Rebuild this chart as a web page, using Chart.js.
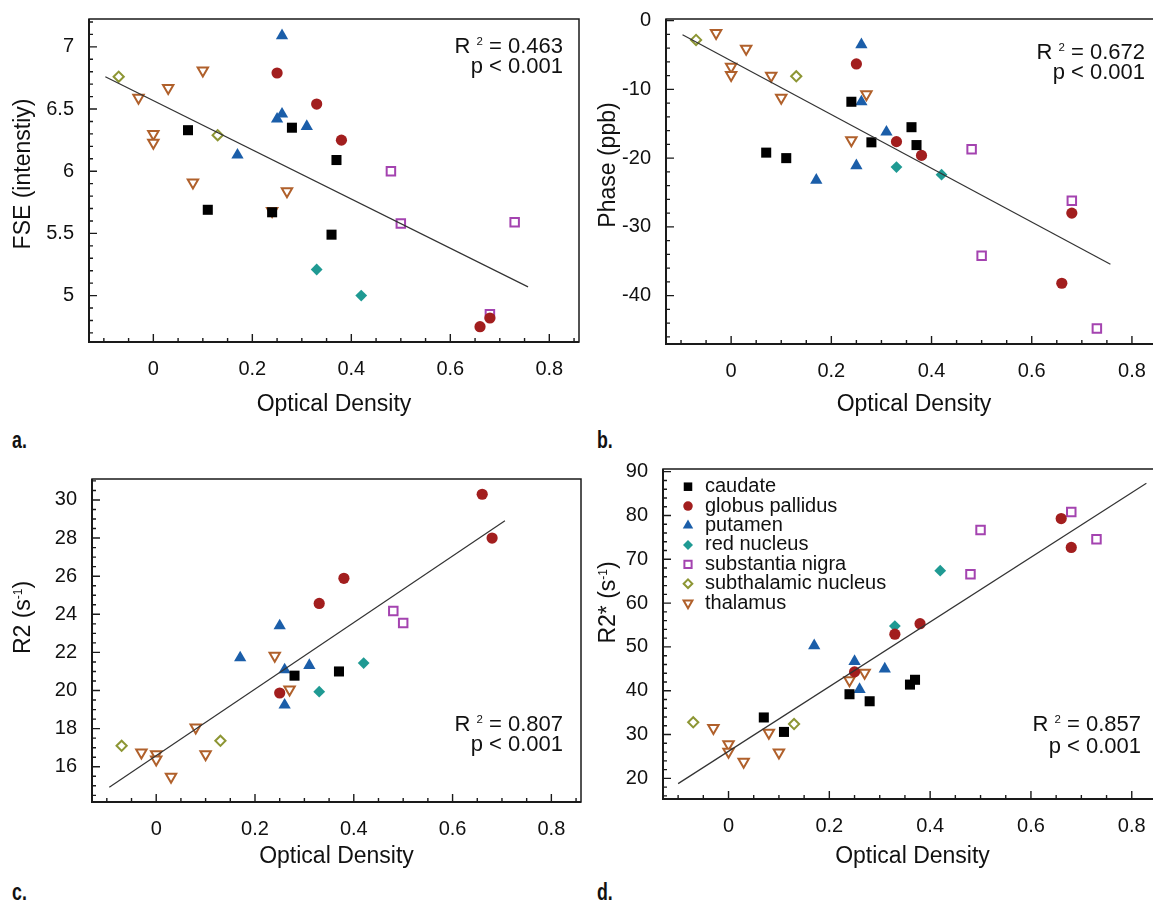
<!DOCTYPE html>
<html>
<head>
<meta charset="utf-8">
<script src="https://cdn.jsdelivr.net/npm/chart.js@4.4.0/dist/chart.umd.min.js"></script>
<style>
  html, body { margin: 0; padding: 0; background: #fff; width: 1153px; height: 903px; overflow: hidden; position: relative; }
  canvas { position: absolute; }
  .tag { position: absolute; font-family: 'Liberation Sans', Arial, Helvetica, sans-serif; font-weight: bold;
         font-size: 24px; line-height: 24px; color: #111; transform: scaleX(0.74); transform-origin: left top; }
</style>
</head>
<body>
<div class="tag" style="left:12px;top:428px">a.</div>
<div class="tag" style="left:597px;top:428px">b.</div>
<div class="tag" style="left:12px;top:880px">c.</div>
<div class="tag" style="left:597px;top:880px">d.</div>
<script>
const FONT = "'Liberation Sans', Arial, Helvetica, sans-serif";
Chart.defaults.font.family = FONT;
Chart.defaults.color = '#111';

const regions = ['caudate', 'globus pallidus', 'putamen', 'red nucleus', 'substantia nigra', 'subthalamic nucleus', 'thalamus'];

// optical density of each sample, per region (same samples in all four panels)
const caudateOD  = [0.07, 0.11, 0.24, 0.28, 0.36, 0.37];
const pallidusOD = [0.25, 0.33, 0.38, 0.66, 0.68];
const putamenOD  = [0.17, 0.25, 0.26, 0.26, 0.31];
const redNucOD   = [0.33, 0.42];
const nigraOD    = [0.48, 0.50, 0.68, 0.73];
const subthalOD  = [-0.07, 0.13];
const thalamusOD = [-0.03, 0, 0, 0.03, 0.08, 0.10, 0.24, 0.27];

// a. FSE (intensity)
const caudateFSE  = [6.33, 5.69, 5.67, 6.35, 5.49, 6.09];
const pallidusFSE = [6.79, 6.54, 6.25, 4.75, 4.82];
const putamenFSE  = [6.13, 6.42, 7.09, 6.46, 6.36];
const redNucFSE   = [5.21, 5.00];
const nigraFSE    = [6.00, 5.58, 4.85, 5.59];
const subthalFSE  = [6.76, 6.29];
const thalamusFSE = [6.59, 6.30, 6.23, 6.67, 5.91, 6.81, 5.68, 5.84];
const fitFSE_OD = [-0.097, 0.757];
const fitFSE    = [6.76, 5.07];

// b. phase (ppb)
const caudatePhase  = [-19.2, -20.0, -11.8, -17.7, -15.5, -18.1];
const pallidusPhase = [-6.3, -17.6, -19.6, -38.2, -28.0];
const putamenPhase  = [-23.2, -21.1, -3.5, -11.8, -16.2];
const redNucPhase   = [-21.3, -22.4];
const nigraPhase    = [-18.7, -34.2, -26.2, -44.8];
const subthalPhase  = [-2.8, -8.1];
const thalamusPhase = [-1.8, -6.7, -7.9, -4.1, -8.0, -11.2, -17.4, -10.7];
const fitPhase_OD = [-0.097, 0.757];
const fitPhase    = [-2.05, -35.45];

// c. R2 (1/s)
const caudateR2  = [null, null, null, 20.78, null, 21.0];
const pallidusR2 = [19.87, 24.57, 25.89, 30.30, 28.0];
const putamenR2  = [21.72, 23.4, 21.09, 19.24, 21.32];
const redNucR2   = [19.94, 21.44];
const nigraR2    = [24.17, 23.54, null, null];
const subthalR2  = [17.1, 17.36];
const thalamusR2 = [16.75, 16.66, 16.38, 15.47, 18.06, 16.65, 21.83, 20.06];
const fitR2_OD = [-0.095, 0.706];
const fitR2    = [14.93, 28.91];

// d. R2* (1/s)
const caudateR2s  = [33.9, 30.6, 39.2, 37.6, 41.4, 42.5];
const pallidusR2s = [44.3, 52.9, 55.3, 79.3, 72.7];
const putamenR2s  = [50.3, 46.7, 40.3, null, 45.0];
const redNucR2s   = [54.75, 67.4];
const nigraR2s    = [66.6, 76.7, 80.8, 74.6];
const subthalR2s  = [32.8, 32.4];
const thalamusR2s = [31.5, 27.8, 26.1, 23.8, 30.4, 25.9, 42.4, 44.1];
const fitR2s_OD = [-0.1, 0.829];
const fitR2s    = [18.8, 87.35];

const odByRegion = [caudateOD, pallidusOD, putamenOD, redNucOD, nigraOD, subthalOD, thalamusOD];

const markers = [
  {style: 'rect',     r: 7.1, fill: '#000000', line: '#000000', bw: 0},
  {style: 'circle',   r: 5.6, fill: '#a21e1e', line: '#a21e1e', bw: 0},
  {style: 'triangle', r: 7.1, fill: '#1b5ea9', line: '#1b5ea9', bw: 0},
  {style: 'rectRot',  r: 5.9, fill: '#1f9a93', line: '#1f9a93', bw: 0},
  {style: 'rect',     r: 6.0, fill: '#ffffff', line: '#a443b0', bw: 2},
  {style: 'rectRot',  r: 5.1, fill: '#ffffff', line: '#8d9634', bw: 2},
  {style: 'triangle', r: 6.0, fill: '#ffffff', line: '#b0602b', bw: 2, rot: 180}
];

const panels = [
  {left: 0, top: 0, w: 590, h: 450, frame: [89, 17, 579, 342], yMin: 4.627, yMax: 7.224, yStep: 0.1, yLabelStep: 0.5,
   values: [caudateFSE, pallidusFSE, putamenFSE, redNucFSE, nigraFSE, subthalFSE, thalamusFSE],
   fitX: fitFSE_OD, fitY: fitFSE, yTitle: [{t: 'FSE (intenstiy)'}], yTitleAt: [24, 174], xTitleY: 405,
   stat: '0.463', statAt: [563, 46.7], statGap: 20},
  {left: 580, top: 0, w: 590, h: 450, frame: [666, 15, 1166, 344], yMin: -47.04, yMax: 0.24, yStep: 2, yLabelStep: 10,
   values: [caudatePhase, pallidusPhase, putamenPhase, redNucPhase, nigraPhase, subthalPhase, thalamusPhase],
   fitX: fitPhase_OD, fitY: fitPhase, yTitle: [{t: 'Phase (ppb)'}], yTitleAt: [609, 165], xTitleY: 404.5,
   stat: '0.672', statAt: [1145, 53.3], statGap: 20},
  {left: 0, top: 450, w: 590, h: 453, frame: [92, 479, 581, 802], yMin: 14.15, yMax: 31.1, yStep: 0.5, yLabelStep: 2,
   values: [caudateR2, pallidusR2, putamenR2, redNucR2, nigraR2, subthalR2, thalamusR2],
   fitX: fitR2_OD, fitY: fitR2, yTitle: [{t: 'R2 (s'}, {t: '-1', sup: true}, {t: ')'}], yTitleAt: [24, 617.5], xTitleY: 857,
   stat: '0.807', statAt: [563, 725], statGap: 20},
  {left: 580, top: 450, w: 590, h: 453, frame: [663, 468, 1163, 799], yMin: 15.29, yMax: 90.61, yStep: 2, yLabelStep: 10,
   values: [caudateR2s, pallidusR2s, putamenR2s, redNucR2s, nigraR2s, subthalR2s, thalamusR2s],
   fitX: fitR2s_OD, fitY: fitR2s, yTitle: [{t: 'R2* (s'}, {t: '-1', sup: true}, {t: ')'}], yTitleAt: [609, 602.5], xTitleY: 857,
   stat: '0.857', statAt: [1141, 725], statGap: 22, legend: true}
];

function onlyEvery(step) {
  return function (v) {
    const r = v / step;
    return Math.abs(r - Math.round(r)) < 1e-6 ? String(Math.round(v * 100) / 100) : '';
  };
}

// text with superscripts, x = left start, y = middle
function richWidth(ctx, parts, size) {
  let w = 0;
  parts.forEach(p => {
    ctx.font = (p.sup ? size * 0.52 : size) + 'px ' + FONT;
    w += ctx.measureText(p.t).width;
  });
  return w;
}
function drawRich(ctx, parts, x, y, size) {
  parts.forEach(p => {
    const s = p.sup ? size * 0.52 : size;
    ctx.font = s + 'px ' + FONT;
    ctx.fillText(p.t, x, p.sup ? y - size * 0.24 : y);
    x += ctx.measureText(p.t).width;
  });
}

function panelPlugin(p) {
  return {
    id: 'panelDecor',
    beforeDatasetsDraw(chart) {
      const {ctx, chartArea: a, scales: {x, y}} = chart;
      ctx.save();
      ctx.strokeStyle = '#1a1a1a';
      ctx.lineWidth = 1.5;
      ctx.strokeRect(a.left, a.top, a.right - a.left, a.bottom - a.top);
      ctx.lineWidth = 2;
      ctx.beginPath();
      ctx.moveTo(a.left, a.top);
      ctx.lineTo(a.left, a.bottom);
      ctx.lineTo(a.right, a.bottom);
      ctx.stroke();
      // inward tick marks
      ctx.lineWidth = 1.4;
      ctx.beginPath();
      x.ticks.forEach(t => {
        const px = x.getPixelForValue(t.value);
        const len = t.label ? 8 : 4;
        ctx.moveTo(px, a.bottom);
        ctx.lineTo(px, a.bottom - len);
      });
      y.ticks.forEach(t => {
        const py = y.getPixelForValue(t.value);
        const len = t.label ? 8 : 4;
        ctx.moveTo(a.left, py);
        ctx.lineTo(a.left + len, py);
      });
      ctx.stroke();
      ctx.restore();
    },
    afterDraw(chart) {
      const {ctx, chartArea: a} = chart;
      ctx.save();
      ctx.fillStyle = '#111';
      ctx.textBaseline = 'middle';
      ctx.textAlign = 'left';

      // y title
      const ts = 23;
      const tw = richWidth(ctx, p.yTitle, ts);
      ctx.save();
      ctx.translate(p.yTitleAt[0] - p.left, p.yTitleAt[1] - p.top);
      ctx.rotate(-Math.PI / 2);
      drawRich(ctx, p.yTitle, -tw / 2, 0, ts);
      ctx.restore();

      // R^2 and p
      const ss = 22;
      const rx = p.statAt[0] - p.left, ry = p.statAt[1] - p.top;
      const line1 = [{t: 'R '}, {t: '2', sup: true}, {t: ' = ' + p.stat}];
      const line2 = [{t: 'p < 0.001'}];
      drawRich(ctx, line1, rx - richWidth(ctx, line1, ss), ry, ss);
      drawRich(ctx, line2, rx - richWidth(ctx, line2, ss), ry + p.statGap, ss);

      // legend inside the plot
      if (p.legend) {
        const draw = Chart.helpers && Chart.helpers.drawPoint;
        regions.forEach((name, i) => {
          const m = markers[i];
          const cy = a.top + 17.7 + i * 19.4;
          const cx = a.left + 25;
          ctx.save();
          ctx.fillStyle = m.fill;
          ctx.strokeStyle = m.line;
          ctx.lineWidth = m.bw;
          if (draw) {
            draw(ctx, {pointStyle: m.style, radius: m.r * 0.85, rotation: m.rot || 0, borderWidth: m.bw}, cx, cy);
          }
          ctx.restore();
          ctx.font = '20px ' + FONT;
          ctx.fillText(name, a.left + 42, cy);
        });
      }
      ctx.restore();
    }
  };
}

panels.forEach(p => {
  const canvas = document.createElement('canvas');
  canvas.width = p.w;
  canvas.height = p.h;
  canvas.style.left = p.left + 'px';
  canvas.style.top = p.top + 'px';
  document.body.appendChild(canvas);

  const [fl, ft, fr, fb] = p.frame;
  const yWidth = fl - p.left;
  const xHeight = p.top + p.h - fb;

  const datasets = regions.map((name, i) => {
    const m = markers[i];
    const pts = odByRegion[i].map((od, j) => ({x: od, y: p.values[i][j]})).filter(d => d.y !== null);
    return {
      label: name,
      data: pts,
      pointStyle: m.style,
      pointRadius: m.r,
      pointHoverRadius: m.r,
      pointRotation: m.rot || 0,
      backgroundColor: m.fill,
      borderColor: m.line,
      pointBorderWidth: m.bw,
      borderWidth: m.bw,
      order: 1
    };
  });
  datasets.push({
    type: 'line',
    label: 'fit',
    data: p.fitX.map((od, j) => ({x: od, y: p.fitY[j]})),
    borderColor: '#333333',
    borderWidth: 1.2,
    pointRadius: 0,
    fill: false,
    order: 0
  });

  new Chart(canvas, {
    type: 'scatter',
    data: {datasets},
    options: {
      responsive: false,
      animation: false,
      devicePixelRatio: 1,
      events: [],
      layout: {padding: {left: 0, top: ft - p.top, right: p.left + p.w - fr, bottom: 0}},
      plugins: {legend: {display: false}, tooltip: {enabled: false}},
      scales: {
        x: {
          type: 'linear', min: -0.13, max: 0.86,
          grid: {display: false}, border: {display: false},
          ticks: {stepSize: 0.05, includeBounds: false, autoSkip: false, maxRotation: 0, padding: 7,
                  color: '#111', font: {size: 20}, callback: onlyEvery(0.2)},
          title: {display: true, text: 'Optical Density', color: '#111', font: {size: 23, lineHeight: 1.2},
                  padding: {top: 0, bottom: p.top + p.h - p.xTitleY - 13.8}},
          afterFit: s => { s.height = xHeight; }
        },
        y: {
          type: 'linear', min: p.yMin, max: p.yMax,
          grid: {display: false}, border: {display: false},
          ticks: {stepSize: p.yStep, includeBounds: false, autoSkip: false, padding: 7,
                  color: '#111', font: {size: 20}, callback: onlyEvery(p.yLabelStep)},
          afterFit: s => { s.width = yWidth; }
        }
      }
    },
    plugins: [panelPlugin(p)]
  });
});
</script>
</body>
</html>
